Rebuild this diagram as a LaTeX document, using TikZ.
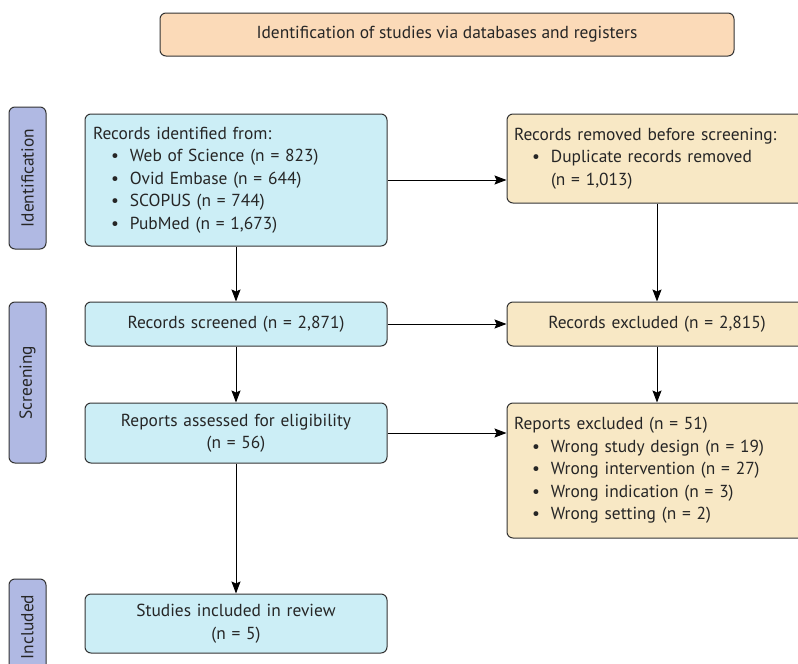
\documentclass[tikz,border=0pt]{standalone}
\usepackage{fontspec}
\setmainfont{PT Sans}
\usetikzlibrary{arrows.meta}
\definecolor{peach}{HTML}{FBDAB8}
\definecolor{lav}{HTML}{B0B9E3}
\definecolor{cyanbox}{HTML}{CCEEF6}
\definecolor{tan}{HTML}{F8E8C5}
\definecolor{edge}{HTML}{333333}
\newcommand{\itm}[1]{\hspace*{18pt}\makebox[19pt][l]{\textbullet}#1}
\newcommand{\cnt}[1]{\hspace*{37pt}#1}
\tikzset{
  box/.style={draw=edge, line width=1pt, rounded corners=6pt, inner sep=0pt,
    font=\fontsize{17.4}{22.5}\selectfont, text=black!85},
  bluebox/.style={box, fill=cyanbox, minimum width=302pt},
  tanbox/.style={box, fill=tan, minimum width=300pt},
  leftt/.style={align=left, text width=286pt},
  centt/.style={align=center, text width=286pt},
  phase/.style={box, fill=lav, rotate=90, minimum height=37pt},
  arr/.style={line width=1pt, -{Stealth[length=12pt,width=9pt,inset=2pt]}}
}
\begin{document}
\begin{tikzpicture}[x=1pt,y=-1pt]
\useasboundingbox (0,0) rectangle (798,664);
\clip (0,0) rectangle (798,664);
% header
\node[box, fill=peach, minimum width=574pt, minimum height=43pt] (head) at (447,34.5)
  {Identification of studies via databases and registers};
% phase labels
\node[phase, minimum width=142pt] (pid) at (27.5,178) {Identification};
\node[phase, minimum width=161pt] (psc) at (27.5,382.5) {Screening};
\node[phase, minimum width=96pt] (pin) at (27.5,627) {Included};
% left column
\node[bluebox, leftt, minimum height=132pt] (ident) at (236,180)
  {Records identified from:\\
   \itm{Web of Science (n = 823)}\\
   \itm{Ovid Embase (n = 644)}\\
   \itm{SCOPUS (n = 744)}\\
   \itm{PubMed (n = 1,673)}};
\node[bluebox, centt, minimum height=44pt] (scr) at (236,324)
  {Records screened (n = 2,871)};
\node[bluebox, centt, minimum height=60pt] (assess) at (236,433)
  {Reports assessed for eligibility\\(n = 56)};
\node[bluebox, centt, minimum height=59pt] (incl) at (236,623.5)
  {Studies included in review\\(n = 5)};
% right column
\node[tanbox, leftt, minimum height=89pt] (removed) at (657,158.5)
  {Records removed before screening:\\
   \itm{Duplicate records removed}\\
   \cnt{(n = 1,013)}};
\node[tanbox, centt, minimum height=44pt] (excl) at (657,324)
  {Records excluded (n = 2,815)};
\node[tanbox, leftt, minimum height=135pt] (rexcl) at (657,470.5)
  {Reports excluded (n = 51)\\
   \itm{Wrong study design (n = 19)}\\
   \itm{Wrong intervention (n = 27)}\\
   \itm{Wrong indication (n = 3)}\\
   \itm{Wrong setting (n = 2)}};
% connectors
\draw[arr] (ident.east) -- (ident.east -| removed.west);
\draw[arr] (removed.south) -- (excl.north);
\draw[arr] (ident.south) -- (scr.north);
\draw[arr] (scr.east) -- (excl.west);
\draw[arr] (scr.south) -- (assess.north);
\draw[arr] (assess.east) -- (assess.east -| rexcl.west);
\draw[arr] (excl.south) -- (rexcl.north);
\draw[arr] (assess.south) -- (incl.north);
\end{tikzpicture}
\end{document}
